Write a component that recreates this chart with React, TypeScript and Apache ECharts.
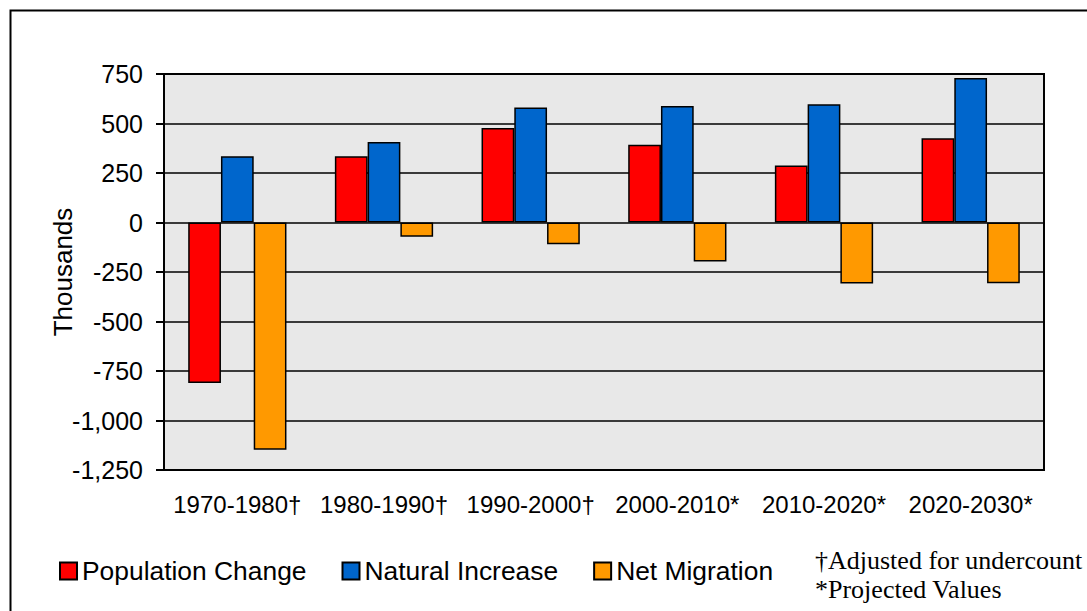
import React, { useEffect, useRef } from "react";
import * as echarts from "echarts";

const categories = ["1970-1980†", "1980-1990†", "1990-2000†", "2000-2010*", "2010-2020*", "2020-2030*"];
const populationChange = [-810, 334, 477, 393, 288, 426];
const naturalIncrease = [335, 406, 581, 588, 597, 730];
const netMigration = [-1148, -72, -110, -197, -308, -307];
const seriesNames = ["Population Change", "Natural Increase", "Net Migration"];
const seriesColors = ["#FF0000", "#0066CC", "#FF9900"];
const footnotes = ["†Adjusted for undercount", "*Projected Values"];

const SANS = "'Liberation Sans', Arial, sans-serif";
const SERIF = "'Liberation Serif', 'Times New Roman', serif";

export default function App() {
  const ref = useRef<HTMLDivElement>(null);
  useEffect(() => {
    document.body.style.margin = "0";
    document.body.style.overflow = "hidden";
    const chart = echarts.init(ref.current!, null, { renderer: "svg" });
    const data = [populationChange, naturalIncrease, netMigration];
    chart.setOption({
      animation: false,
      backgroundColor: "#FFFFFF",
      grid: {
        left: 164,
        top: 74,
        right: 43,
        bottom: 141,
        show: true,
        backgroundColor: "#E8E8E8",
        borderColor: "#000000",
        borderWidth: 2,
      },
      legend: {
        left: 59,
        top: 558,
        padding: 0,
        itemWidth: 17,
        itemHeight: 17,
        itemGap: 35,
        icon: "rect",
        itemStyle: { borderColor: "#000000", borderWidth: 2 },
        textStyle: { fontFamily: SANS, fontSize: 26.4, color: "#000000" },
        data: seriesNames.map((name, i) => ({
          name,
          itemStyle: { color: seriesColors[i], borderColor: "#000000", borderWidth: 2 },
        })),
      },
      xAxis: {
        type: "category",
        data: categories,
        axisLine: { show: true, onZero: false, lineStyle: { color: "#000000", width: 2 } },
        axisTick: { show: false },
        axisLabel: { fontFamily: SANS, fontSize: 24, color: "#000000", margin: 22, interval: 0 },
        splitLine: { show: false },
      },
      yAxis: {
        type: "value",
        min: -1250,
        max: 750,
        interval: 250,
        name: "Thousands",
        nameLocation: "middle",
        nameGap: 88,
        nameMoveOverlap: false,
        nameTextStyle: { fontFamily: SANS, fontSize: 26, color: "#000000" },
        axisLine: { show: true, lineStyle: { color: "#000000", width: 2 } },
        axisTick: { show: true, length: 8, lineStyle: { color: "#000000", width: 2 } },
        axisLabel: {
          fontFamily: SANS,
          fontSize: 25,
          color: "#000000",
          margin: 21,
          formatter: (v: number) => v.toLocaleString("en-US"),
        },
        splitLine: { show: true, lineStyle: { color: "#000000", width: 1.5 } },
      },
      series: seriesNames.map((name, i) => ({
        name,
        type: "bar",
        data: data[i],
        barGap: "0%",
        barCategoryGap: "33%",
        itemStyle: { color: seriesColors[i], borderColor: "#000000", borderWidth: 1.5 },
      })),
      graphic: [
        {
          type: "rect",
          shape: { x: 10.5, y: 10.5, width: 1200, height: 1200 },
          style: { fill: "none", stroke: "#000000", lineWidth: 2 },
          silent: true,
        },
        {
          type: "text",
          left: 815,
          top: 547,
          style: { text: footnotes[0], font: `26px ${SERIF}`, fill: "#000000" },
        },
        {
          type: "text",
          left: 815,
          top: 576,
          style: { text: footnotes[1], font: `26px ${SERIF}`, fill: "#000000" },
        },
      ],
    });
    return () => chart.dispose();
  }, []);
  return <div ref={ref} style={{ width: 1087, height: 611, overflow: "hidden" }} />;
}
